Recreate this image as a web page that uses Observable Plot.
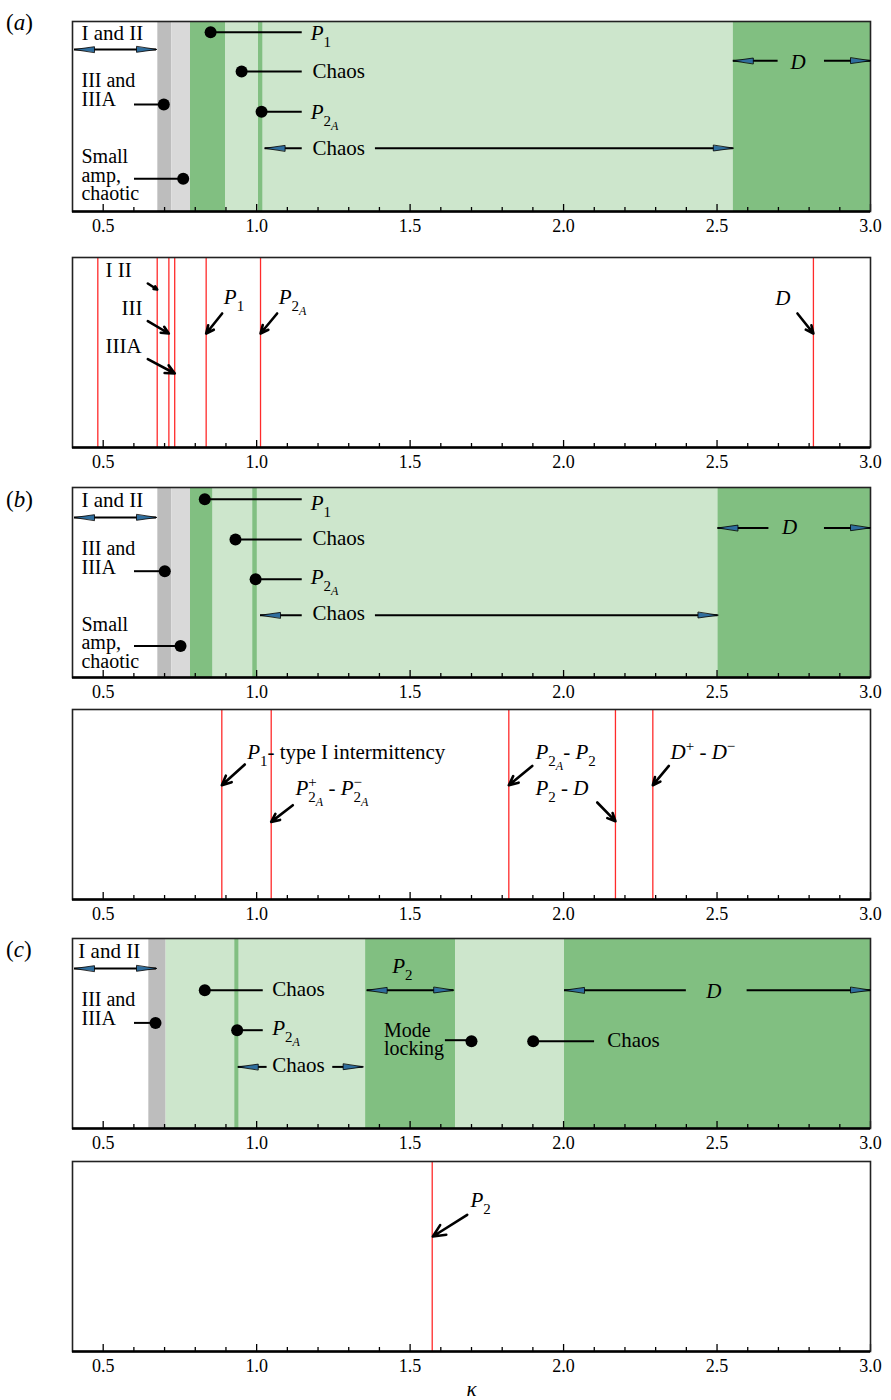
<!DOCTYPE html>
<html><head><meta charset="utf-8">
<script src="https://cdn.jsdelivr.net/npm/d3@7"></script>
<script src="https://cdn.jsdelivr.net/npm/@observablehq/plot@0.6"></script>
<style>
body{margin:0;background:#fff;}
#root{position:relative;width:891px;height:1400px;font-family:"Liberation Serif","Times New Roman",serif;color:#000;}
.plab{position:absolute;left:6px;font-size:23px;line-height:1;}
.panel{position:absolute;left:0;}
</style></head><body><div id="root"></div><script>
// ---------- axis ----------
const kappaDomain = [0.4, 3.0];
const majorTicks = [0.5, 1.0, 1.5, 2.0, 2.5, 3.0];
const minorTicks = [0.6,0.7,0.8,0.9,1.1,1.2,1.3,1.4,1.6,1.7,1.8,1.9,2.1,2.2,2.3,2.4,2.6,2.7,2.8,2.9];
const regimes = ["III/IIIA", "small-amp chaos", "periodic", "chaos"];
const regimeColors = ["#bdbdbd", "#d9d9d9", "#81bf81", "#cde6cc"];

// ---------- (a) regime map ----------
const bandsA = [
  {x1: 0.678, x2: 0.7235, regime: "III/IIIA"},
  {x1: 0.7235, x2: 0.7845, regime: "small-amp chaos"},
  {x1: 0.7845, x2: 0.8985, regime: "periodic"},
  {x1: 0.8985, x2: 2.553, regime: "chaos"},
  {x1: 1.006, x2: 1.020, regime: "periodic"},
  {x1: 2.553, x2: 3.0, regime: "periodic"}
];
const textsA = [
  {x: 0.4293, y: 18.3, t: "I and II"},
  {x: 1.176, y: 18.3, t: "P1"},
  {x: 1.182, y: 56.3, t: "Chaos"},
  {x: 1.176, y: 97.3, t: "P2A"},
  {x: 1.182, y: 133, t: "Chaos"},
  {x: 2.739, y: 47.3, t: "D"}
];
const multiA = [
  {x: 0.4293, y: 84, t: "III and\nIIIA"},
  {x: 0.4293, y: 178.3, t: "Small\namp,\nchaotic"}
];
const dotsA = [
  {x: 0.85, y: 10.7}, {x: 0.951, y: 50}, {x: 0.6975, y: 83}, {x: 1.016, y: 90.3}, {x: 0.7607, y: 157.3}
];
const segsA = [
  {x1: 0.85, x2: 1.1485, y: 10.7}, {x1: 0.951, x2: 1.1485, y: 50}, {x1: 0.602, x2: 0.6975, y: 83},
  {x1: 1.016, x2: 1.1485, y: 90.3}, {x1: 0.602, x2: 0.7607, y: 157.3},
  {x1: 0.4065, x2: 0.6737, y: 28},
  {x1: 1.0275, x2: 1.1485, y: 126.7}, {x1: 1.387, x2: 2.553, y: 126.7},
  {x1: 2.553, x2: 2.699, y: 39.3}, {x1: 2.85, x2: 3.0, y: 39.3}
];
const headsA = [
  {x: 0.4065, y: 28, dir: "left"}, {x: 0.6737, y: 28, dir: "right"},
  {x: 1.0275, y: 126.7, dir: "left"}, {x: 2.553, y: 126.7, dir: "right"},
  {x: 2.553, y: 39.3, dir: "left"}, {x: 3.0, y: 39.3, dir: "right"}
];
// (a) bifurcation points
const redA = [0.4825, 0.676, 0.714, 0.733, 0.8355, 1.0126, 2.814];
const labelsA = [
  {x: 0.5075, y: 19.4, t: "I II"}, {x: 0.56, y: 57.7, t: "III"}, {x: 0.5075, y: 95.4, t: "IIIA"},
  {x: 0.893, y: 46, t: "P1"}, {x: 1.072, y: 46, t: "P2A"}, {x: 2.69, y: 47.7, t: "D"}
];
const arrowsA = [
  {x1: 0.6454, y1: 26, x2: 0.676, y2: 32}, {x1: 0.6454, y1: 63.7, x2: 0.7138, y2: 76},
  {x1: 0.6454, y1: 101.7, x2: 0.7333, y2: 116}, {x1: 0.8876, y1: 56, x2: 0.8355, y2: 76},
  {x1: 1.0667, y1: 56, x2: 1.0126, y2: 76}, {x1: 2.762, y1: 56, x2: 2.814, y2: 76}
];

// ---------- (b) regime map ----------
const bandsB = [
  {x1: 0.678, x2: 0.7235, regime: "III/IIIA"},
  {x1: 0.7235, x2: 0.7845, regime: "small-amp chaos"},
  {x1: 0.7845, x2: 0.858, regime: "periodic"},
  {x1: 0.858, x2: 2.503, regime: "chaos"},
  {x1: 0.9875, x2: 1.002, regime: "periodic"},
  {x1: 2.503, x2: 3.0, regime: "periodic"}
];
const textsB = [
  {x: 0.4293, y: 19.4, t: "I and II"},
  {x: 1.176, y: 22, t: "P1"},
  {x: 1.182, y: 57.7, t: "Chaos"},
  {x: 1.176, y: 96.7, t: "P2A"},
  {x: 1.182, y: 132.7, t: "Chaos"},
  {x: 2.712, y: 46.7, t: "D"}
];
const multiB = [
  {x: 0.4293, y: 86, t: "III and\nIIIA"},
  {x: 0.4293, y: 180, t: "Small\namp,\nchaotic"}
];
const dotsB = [
  {x: 0.831, y: 11.7}, {x: 0.931, y: 52}, {x: 0.7007, y: 83.7}, {x: 0.9966, y: 91.7}, {x: 0.752, y: 158.4}
];
const segsB = [
  {x1: 0.831, x2: 1.1485, y: 11.7}, {x1: 0.931, x2: 1.1485, y: 52}, {x1: 0.602, x2: 0.7007, y: 83.7},
  {x1: 0.9966, x2: 1.1485, y: 91.7}, {x1: 0.602, x2: 0.752, y: 158.4},
  {x1: 0.4065, x2: 0.6737, y: 30},
  {x1: 1.0126, x2: 1.1485, y: 127.7}, {x1: 1.387, x2: 2.503, y: 127.7},
  {x1: 2.503, x2: 2.669, y: 40.4}, {x1: 2.85, x2: 3.0, y: 40.4}
];
const headsB = [
  {x: 0.4065, y: 30, dir: "left"}, {x: 0.6737, y: 30, dir: "right"},
  {x: 1.0126, y: 127.7, dir: "left"}, {x: 2.503, y: 127.7, dir: "right"},
  {x: 2.503, y: 40.4, dir: "left"}, {x: 3.0, y: 40.4, dir: "right"}
];
const redB = [0.8865, 1.0474, 1.8216, 2.169, 2.2908];
const labelsB = [
  {x: 0.969, y: 49, t: "P1- type I intermittency"},
  {x: 1.1266, y: 85.7, t: "P+2A - P−2A"},
  {x: 1.9086, y: 49, t: "P2A- P2"},
  {x: 1.9086, y: 85.7, t: "P2 - D"},
  {x: 2.3485, y: 49, t: "D+ - D−"}
];
const arrowsB = [
  {x1: 0.9614, y1: 55, x2: 0.8865, y2: 75.7}, {x1: 1.1178, y1: 95.7, x2: 1.0474, y2: 112.4},
  {x1: 1.8979, y1: 56.4, x2: 1.8216, y2: 75.7}, {x1: 2.1097, y1: 93, x2: 2.169, y2: 111.7},
  {x1: 2.343, y1: 56.4, x2: 2.2908, y2: 75.7}
];

// ---------- (c) regime map ----------
const bandsC = [
  {x1: 0.6487, x2: 0.705, regime: "III/IIIA"},
  {x1: 0.705, x2: 1.355, regime: "chaos"},
  {x1: 0.929, x2: 0.942, regime: "periodic"},
  {x1: 1.355, x2: 1.648, regime: "periodic"},
  {x1: 1.648, x2: 2.003, regime: "chaos"},
  {x1: 2.003, x2: 3.0, regime: "periodic"}
];
const textsC = [
  {x: 0.419, y: 19.4, t: "I and II"},
  {x: 1.0507, y: 57.4, t: "Chaos"},
  {x: 1.0507, y: 96.7, t: "P2A"},
  {x: 1.0507, y: 133.4, t: "Chaos"},
  {x: 1.4415, y: 34.4, t: "P2"},
  {x: 2.142, y: 108.4, t: "Chaos"},
  {x: 2.465, y: 59.4, t: "D"}
];
const multiC = [
  {x: 0.4293, y: 86, t: "III and\nIIIA"},
  {x: 1.415, y: 116.7, t: "Mode\nlocking"}
];
const dotsC = [
  {x: 0.831, y: 51.7}, {x: 0.6705, y: 84.4}, {x: 0.9365, y: 91.7}, {x: 1.70, y: 102.7}, {x: 1.901, y: 102.7}
];
const segsC = [
  {x1: 0.831, x2: 1.0215, y: 51.7}, {x1: 0.602, x2: 0.6705, y: 84.4}, {x1: 0.9365, x2: 1.0215, y: 91.7},
  {x1: 1.615, x2: 1.70, y: 101.7}, {x1: 1.901, x2: 2.101, y: 102.7},
  {x1: 0.4065, x2: 0.6737, y: 30},
  {x1: 0.94, x2: 1.034, y: 128.4}, {x1: 1.248, x2: 1.347, y: 128.4},
  {x1: 1.36, x2: 1.642, y: 51.7},
  {x1: 2.003, x2: 2.4, y: 51.7}, {x1: 2.598, x2: 3.0, y: 51.7}
];
const headsC = [
  {x: 0.4065, y: 30, dir: "left"}, {x: 0.6737, y: 30, dir: "right"},
  {x: 0.94, y: 128.4, dir: "left"}, {x: 1.347, y: 128.4, dir: "right"},
  {x: 1.36, y: 51.7, dir: "left"}, {x: 1.642, y: 51.7, dir: "right"},
  {x: 2.003, y: 51.7, dir: "left"}, {x: 3.0, y: 51.7, dir: "right"}
];
const redC = [1.572];
const labelsC = [{x: 1.6968, y: 45.7, t: "P2"}];
const arrowsC = [{x1: 1.686, y1: 53.3, x2: 1.574, y2: 75}];

// rich-text forms of the labels (italic, sub- and superscripts)
const RICH = {
  "P1": [["P","i"],["1","s"]],
  "P2": [["P","i"],["2","s"]],
  "P2A": [["P","i"],["2","s"],["A","ss i"]],
  "D": [["D","i"]],
  "P1- type I intermittency": [["P","i"],["1","s"],["- type I intermittency",""]],
  "P+2A - P−2A": [["P","i"],["+","sup"],["2","s back"],["A","ss i"],[" - ",""],["P","i"],["−","sup"],["2","s back"],["A","ss i"]],
  "P2A- P2": [["P","i"],["2","s"],["A","ss i"],["- ",""],["P","i"],["2","s"]],
  "P2 - D": [["P","i"],["2","s"],[" - ",""],["D","i"]],
  "D+ - D−": [["D","i"],["+","sup"],[" - ",""],["D","i"],["−","sup"]],
  "κ": [["κ","i"]]
};

// ---------- drawing ----------
const H = 190;
const FONT = '"Liberation Serif", "Times New Roman", serif';
const headShape = {
  draw(ctx, l) { ctx.moveTo(0, -l); ctx.lineTo(2.8, 0); ctx.lineTo(-2.8, 0); ctx.closePath(); }
};

function axisMarks() {
  return [
    Plot.ruleX(majorTicks, {x: d => d, y1: H, y2: H - 7, stroke: "black", strokeWidth: 1.3}),
    Plot.ruleX(minorTicks, {x: d => d, y1: H, y2: H - 4, stroke: "black", strokeWidth: 1.3}),
    Plot.frame({stroke: "#222", strokeWidth: 1.6}),
    Plot.ruleY([H], {stroke: "black", strokeWidth: 2.4}),
    Plot.axisX({ticks: majorTicks, tickFormat: d3.format(".1f"), tickSize: 0, tickPadding: 8, fontSize: 18})
  ];
}

function makePlot(bg, fg, mb = 30) {
  return Plot.plot({
    width: 891, height: H + 8 + mb,
    marginLeft: 72, marginRight: 21, marginTop: 8, marginBottom: mb,
    x: {domain: kappaDomain},
    y: {domain: [H, 0], axis: null},
    color: {domain: regimes, range: regimeColors},
    style: {fontFamily: FONT, color: "black", background: "transparent", overflow: "visible"},
    marks: [...bg, ...axisMarks(), ...fg]
  });
}

function textMark(data) {
  return Plot.text(data, {x: "x", y: "y", text: "t", textAnchor: "start", lineAnchor: "bottom",
    fontSize: 21, fill: "black"});
}
function multiMark(data) {
  return Plot.text(data, {x: "x", y: "y", text: "t", textAnchor: "start", lineAnchor: "bottom",
    fontSize: 20, lineHeight: 0.91, fill: "black"});
}

function topPanel(bands, texts, multi, dots, segs, heads) {
  return makePlot(
    [Plot.rect(bands, {x1: "x1", x2: "x2", y1: 0, y2: H, fill: "regime"})],
    [
      Plot.ruleY(segs, {x1: "x1", x2: "x2", y: "y", stroke: "black", strokeWidth: 2}),
      Plot.dot(dots, {x: "x", y: "y", r: 6, fill: "black", stroke: "none"}),
      Plot.vector(heads, {x: "x", y: "y", rotate: d => d.dir === "left" ? -90 : 90, length: 20,
        anchor: "end", shape: headShape, fill: "#2f6e9e", stroke: "black", strokeWidth: 0.8}),
      textMark(texts),
      multiMark(multi)
    ]
  );
}

function bottomPanel(reds, labels, arrows, extra = [], mb = 30) {
  return makePlot(
    [Plot.ruleX(reds, {x: d => d, stroke: "#ff2a2a", strokeWidth: 1.3})],
    [
      Plot.arrow(arrows, {x1: "x1", y1: "y1", x2: "x2", y2: "y2", stroke: "black", strokeWidth: 2.6,
        headLength: 9, headAngle: 50}),
      textMark(labels),
      ...extra
    ], mb
  );
}

function richify(svg) {
  svg.querySelectorAll("text").forEach(t => {
    if (t.querySelector("tspan")) return;
    const segs = RICH[t.textContent];
    if (!segs) return;
    t.textContent = "";
    let cur = 0;
    for (const [s, f] of segs) {
      const sp = document.createElementNS("http://www.w3.org/2000/svg", "tspan");
      const flags = f.split(" ");
      let shift = 0, size = null;
      if (flags.includes("s")) { shift = 7; size = 15; }
      if (flags.includes("ss")) { shift = 11; size = 12; }
      if (flags.includes("sup")) { shift = -8; size = 15; }
      if (flags.includes("i")) sp.setAttribute("font-style", "italic");
      if (flags.includes("back")) sp.setAttribute("dx", -8.5);
      if (size) sp.setAttribute("font-size", size);
      if (shift !== cur) sp.setAttribute("dy", shift - cur);
      cur = shift;
      sp.textContent = s;
      t.appendChild(sp);
    }
  });
}

const root = document.getElementById("root");
const panels = [
  {top: 21, el: topPanel(bandsA, textsA, multiA, dotsA, segsA, headsA)},
  {top: 257.3, el: bottomPanel(redA, labelsA, arrowsA)},
  {top: 487.3, el: topPanel(bandsB, textsB, multiB, dotsB, segsB, headsB)},
  {top: 709.3, el: bottomPanel(redB, labelsB, arrowsB)},
  {top: 938.3, el: topPanel(bandsC, textsC, multiC, dotsC, segsC, headsC)},
  {top: 1161, el: bottomPanel(redC, labelsC, arrowsC,
    [Plot.text(["κ"], {frameAnchor: "bottom", text: d => d, dy: 44, lineAnchor: "bottom", fontSize: 21, fill: "black"})], 50)}
];
for (const p of panels) {
  const d = document.createElement("div");
  d.className = "panel";
  d.style.top = (p.top - 8) + "px";
  d.appendChild(p.el);
  richify(p.el);
  root.appendChild(d);
}
const panelLabels = [{t: "a", top: 11}, {t: "b", top: 488}, {t: "c", top: 937.5}];
for (const l of panelLabels) {
  const d = document.createElement("div");
  d.className = "plab";
  d.style.top = l.top + "px";
  d.innerHTML = "(<i>" + l.t + "</i>)";
  root.appendChild(d);
}
</script></body></html>
